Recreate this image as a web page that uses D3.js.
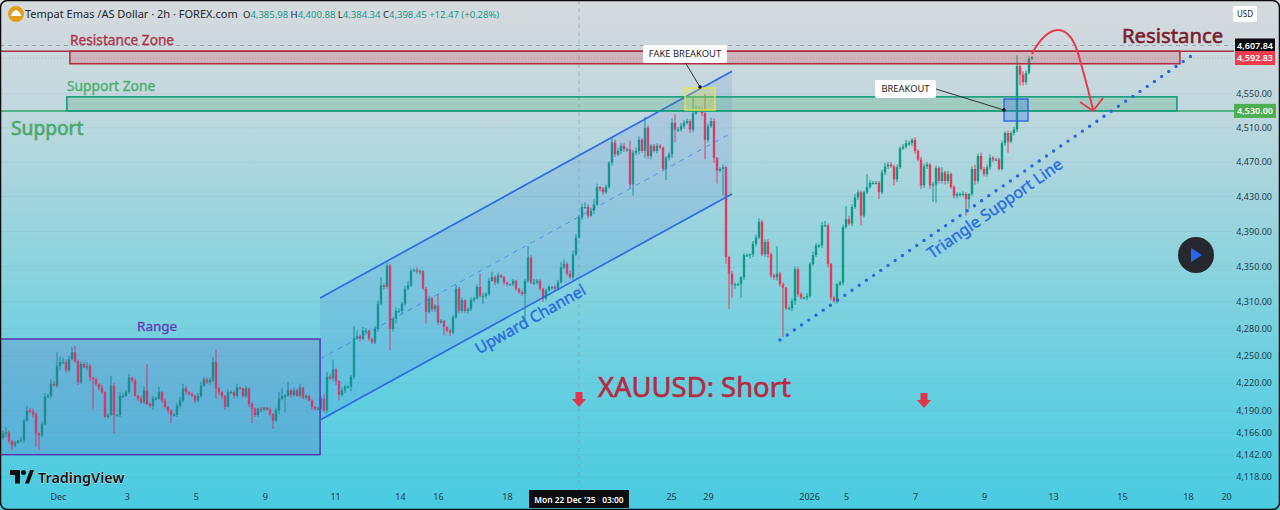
<!DOCTYPE html>
<html><head><meta charset="utf-8">
<script src="https://cdn.jsdelivr.net/npm/d3@7"></script>
<style>html,body{margin:0;padding:0;background:#4dcde2;overflow:hidden}svg{display:block}text{font-family:"Noto Sans",sans-serif}</style>
</head><body><div id="c"></div>
<script>
const closes=[
4165,4166,4157,4152,4155,4157,4158,4179,4190,4189,
4186,4165,4163,4175,4205,4206,4219,4217,4239,4243,
4243,4234,4246,4254,4244,4221,4241,4237,4239,4226,
4224,4219,4215,4210,4183,4185,4217,4185,4185,4206,
4206,4210,4226,4223,4206,4203,4199,4212,4197,4195,
4203,4203,4210,4201,4194,4190,4185,4185,4195,4201,
4214,4210,4208,4206,4201,4206,4217,4224,4221,4223,
4243,4214,4210,4206,4194,4210,4210,4206,4215,4214,
4206,4214,4197,4192,4185,4192,4191,4193,4191,4186,
4179,4190,4203,4206,4206,4212,4207,4212,4206,4215,
4204,4206,4201,4194,4192,4192,4203,4190,
4227,4225,4235,4222,4207,4212,4216,4216,4227,4270,
4272,4269,4278,4278,4269,4265,4280,4308,4329,4327,
4351,4280,4291,4300,4300,4308,4325,4329,4345,4346,
4344,4345,4325,4299,4314,4302,4306,4287,4289,4282,
4278,4276,4293,4325,4300,4312,4300,4302,4312,4314,
4327,4317,4317,4319,4334,4338,4332,4340,4338,4332,
4330,4330,4334,4325,4321,4319,4334,4360,4332,4332,
4334,4325,4314,4323,4327,4327,4325,4332,4349,4353,
4342,4338,4364,4383,4406,4418,4418,4408,4414,4421,
4441,4439,4435,4441,4469,4493,4479,4483,4489,4485,
4485,4444,4481,4483,4496,4483,4510,4477,4489,4483,
4489,4487,4462,4475,4479,4516,4508,4508,4512,4516,
4518,4508,4527,4531,4531,4527,4496,4512,4518,4475,
4460,4462,4464,4361,4342,4330,4330,4330,4338,4363,
4363,4364,4376,4383,4401,4364,4378,4364,4340,4338,
4342,4330,4326,4303,4303,4311,4347,4319,4315,4315,
4317,4353,4363,4374,4374,4397,4397,4353,4315,4311,
4330,4332,4395,4404,4399,4418,4429,4435,4408,4435,
4441,4446,4446,4446,4435,4458,4465,4467,4465,4450,
4464,4486,4488,4492,4492,4496,4483,4473,4443,4465,
4467,4443,4444,4463,4448,4458,4448,4456,4441,4431,
4433,4433,4433,4427,4433,4462,4448,4477,4462,4456,
4464,4475,4473,4473,4462,4492,4504,4494,4504,4508,
4583,4573,4564,4575,4592,4594];
const wickUp=[
3,6,2,1,2,1,3,2,5,3,
3,2,1,3,4,2,5,3,15,6,
5,3,4,6,7,2,3,2,4,2,
1,2,1,3,1,2,11,3,1,4,
3,2,4,1,2,1,3,4,29,2,
3,2,6,1,2,1,1,2,3,4,
5,3,1,2,1,3,4,3,2,3,
6,14,2,1,1,3,2,2,4,1,
1,3,1,2,1,1,2,1,1,2,
1,3,7,9,2,9,2,3,2,4,
1,2,1,1,1,2,3,5,
5,3,11,2,1,3,2,2,2,13,
6,2,4,3,1,1,3,4,9,2,
3,2,2,4,3,2,3,4,3,2,
3,2,1,2,3,2,2,13,2,1,
1,2,2,4,2,3,1,2,3,2,
3,15,3,2,3,6,2,3,2,2,
1,1,2,1,1,2,2,13,3,4,
2,2,1,2,2,1,2,3,6,5,
2,3,4,4,3,4,5,3,3,6,
4,1,2,3,2,5,3,4,3,3,
2,10,3,4,4,2,13,3,2,2,
3,2,1,2,3,5,10,3,4,3,
3,2,19,5,4,3,23,3,4,3,
1,2,3,2,1,3,2,2,1,2,
2,1,3,3,4,2,3,3,2,2,
31,2,2,1,2,3,3,2,2,1,
3,2,4,3,2,4,5,2,1,2,
1,2,3,15,4,3,4,3,2,2,
15,3,2,2,2,3,4,3,3,2,
3,2,3,4,3,2,3,2,3,3,
3,2,3,3,2,6,2,4,2,2,
2,2,3,2,1,3,5,3,4,2,
3,4,2,2,2,3,2,3,2,3,
13,2,4,3,3,1];
const wickDown=[
2,4,3,5,2,1,2,3,1,2,
4,14,16,2,1,2,3,1,2,5,
2,3,2,1,2,3,2,1,3,4,
32,2,3,2,1,2,1,20,1,2,
3,1,2,2,1,3,2,2,1,2,
4,2,1,3,2,3,9,1,2,3,
2,3,2,1,3,2,2,1,2,3,
2,11,3,4,3,1,2,3,2,1,
2,2,3,16,2,2,3,2,1,2,
9,2,4,2,18,1,3,2,1,2,
2,2,1,3,2,1,2,2,
3,2,3,4,6,2,3,2,5,3,
2,3,2,3,2,2,2,3,1,3,
2,24,3,5,2,3,2,2,2,1,
2,3,1,13,2,3,3,3,1,9,
2,4,2,2,3,2,2,3,2,2,
1,2,9,3,2,1,3,2,1,3,
2,1,2,2,2,2,30,2,2,3,
2,2,4,2,1,3,2,2,1,2,
2,2,3,2,1,3,2,3,1,4,
2,3,3,2,2,3,3,2,4,3,
3,4,13,3,4,2,8,3,4,2,
3,2,2,13,3,4,15,3,2,3,
2,4,3,2,2,3,23,3,2,6,
15,2,31,8,40,15,5,2,15,3,
2,4,3,3,2,2,3,4,3,3,
4,3,55,2,2,3,4,3,2,2,
3,2,2,2,3,3,2,4,3,2,
3,2,3,2,2,3,2,3,11,2,
2,2,2,2,8,2,3,3,2,7,
3,2,2,2,3,3,3,2,4,3,
3,4,19,21,3,3,4,3,2,3,
3,3,3,19,11,2,4,3,2,3,
3,3,3,2,2,2,3,13,2,3,
3,13,4,3,2,2];
const firstOpen=4160;
const priceTicks=[4550,4510,4470,4430,4390,4350,4310,4280,4250,4220,4190,4166,4142,4118];
const dateTickBars=[18.3,41.3,64.3,87.3,110.7,132.3,145,168,222.7,235,268.7,281,304,327,350,373,395,407.7];
const dateTickLabels=["Dec","3","5","9","11","14","16","18","25","29","2026","5","7","9","13","15","18","20"];
const headerName="Tempat Emas /AS Dollar · 2h · FOREX.com";
const headerOHLC=[["O","4,385.98"],["H","4,400.88"],["L","4,384.34"],["C","4,398.45"],["","+12.47 (+0.28%)"]];
const lastPrice=4592.83, highLine=4607.84, supportLevel=4530, resistanceLevel=4601, resistanceLow=4586, supportHigh=4546.6;
const channelBars=[105.7,243];
const channelLow=[4179.6,4433];
const channelHigh=[4314.6,4577];
const rangeBars=[-1,105.7], rangePrices=[4142,4268.7];
const trendBars=[259,398], trendPrices=[4267.6,4600];

const W=1280,H=510;
const x=d3.scaleLinear().domain([0,400]).range([3,1203]);
const y=d3.scaleLog().domain([4118,lastPrice]).range([477,58]);
const bars=closes.map((c,i)=>{const o=i?closes[i-1]:firstOpen;return{i,o,c,h:Math.max(o,c)+wickUp[i],l:Math.min(o,c)-wickDown[i]}});

const svg=d3.select("#c").append("svg").attr("width",W).attr("height",H).attr("viewBox",`0 0 ${W} ${H}`);
const defs=svg.append("defs");
const g=defs.append("linearGradient").attr("id","bg").attr("x1",0).attr("x2",0).attr("y1",0).attr("y2",1);
[[0,"#d6dadd"],[.2,"#c2d8de"],[.5,"#8fd3de"],[.75,"#66cfe0"],[1,"#49cbe1"]].forEach(s=>g.append("stop").attr("offset",s[0]).attr("stop-color",s[1]));
svg.append("rect").attr("width",W).attr("height",H).attr("fill","url(#bg)");

// grid
svg.append("g").selectAll("line").data(priceTicks).join("line")
 .attr("x1",0).attr("x2",1233).attr("y1",d=>y(d)).attr("y2",d=>y(d)).attr("stroke","#5a7f88").attr("stroke-opacity",.1);

// level dashes
svg.append("line").attr("x1",0).attr("x2",1233).attr("y1",y(highLine)).attr("y2",y(highLine)).attr("stroke","#9aa5aa").attr("stroke-dasharray","4 4");
svg.append("line").attr("x1",0).attr("x2",1233).attr("y1",y(lastPrice)).attr("y2",y(lastPrice)).attr("stroke","#aeb6ba").attr("stroke-dasharray","1 2");
// crosshair
svg.append("line").attr("x1",x(192)).attr("x2",x(192)).attr("y1",0).attr("y2",490).attr("stroke","#7f9aa2").attr("stroke-opacity",.6).attr("stroke-dasharray","4 4");

// candles
const up="#0f9a86", dn="#e9395a";
const cg=svg.append("g");
cg.selectAll("line").data(bars).join("line")
 .attr("x1",d=>x(d.i)).attr("x2",d=>x(d.i)).attr("y1",d=>y(d.h)).attr("y2",d=>y(d.l))
 .attr("stroke",d=>d.c>=d.o?up:dn).attr("stroke-width",1);
cg.selectAll("rect").data(bars).join("rect")
 .attr("x",d=>x(d.i)-1.2).attr("width",2.4)
 .attr("y",d=>y(Math.max(d.o,d.c))).attr("height",d=>Math.max(1.2,Math.abs(y(d.o)-y(d.c))))
 .attr("fill",d=>d.c>=d.o?up:dn);

// range box
svg.append("rect").attr("x",x(rangeBars[0])).attr("width",x(rangeBars[1])-x(rangeBars[0]))
 .attr("y",y(rangePrices[1])).attr("height",y(rangePrices[0])-y(rangePrices[1]))
 .attr("fill","#5e4ab8").attr("fill-opacity",.2).attr("stroke","#5836b4").attr("stroke-width",1.5);

// channel
const px=(b,p)=>[x(b),y(p)];
svg.append("path").attr("d",d3.line()([px(channelBars[0],channelLow[0]),px(channelBars[1],channelLow[1]),px(channelBars[1],channelHigh[1]),px(channelBars[0],channelHigh[0])])+"Z")
 .attr("fill","#3f6fe0").attr("fill-opacity",.14);
[[channelLow,"none",1.7,.95],[channelHigh,"none",1.7,.95],
 [channelLow.map((d,i)=>Math.sqrt(d*channelHigh[i])),"5 5",1,.55]].forEach(([s,dash,w,o])=>{
 svg.append("line").attr("x1",x(channelBars[0])).attr("x2",x(channelBars[1])).attr("y1",y(s[0])).attr("y2",y(s[1]))
  .attr("stroke","#2a66e6").attr("stroke-width",w).attr("stroke-dasharray",dash).attr("stroke-opacity",o);
});

// zones
const zoneBarsR=[22.3,392.3], zoneBarsS=[21.3,391.3];
svg.append("line").attr("x1",0).attr("x2",1234).attr("y1",y(resistanceLevel)).attr("y2",y(resistanceLevel)).attr("stroke","#a83346").attr("stroke-width",1.6);
svg.append("rect").attr("x",x(zoneBarsR[0])).attr("width",x(zoneBarsR[1])-x(zoneBarsR[0])).attr("y",y(resistanceLevel)).attr("height",y(resistanceLow)-y(resistanceLevel))
 .attr("fill","#d64a62").attr("fill-opacity",.26).attr("stroke","#b02f45").attr("stroke-width",1.6);
svg.append("line").attr("x1",0).attr("x2",1234).attr("y1",y(supportLevel)).attr("y2",y(supportLevel)).attr("stroke","#2fa36b").attr("stroke-width",1.5);
svg.append("rect").attr("x",x(zoneBarsS[0])).attr("width",x(zoneBarsS[1])-x(zoneBarsS[0])).attr("y",y(supportHigh)).attr("height",y(supportLevel)-y(supportHigh))
 .attr("fill","#3fa868").attr("fill-opacity",.24).attr("stroke","#159f7c").attr("stroke-width",1.6);

// highlight boxes
svg.append("rect").attr("x",685).attr("y",88).attr("width",30).attr("height",22).attr("fill","#f1ea3a").attr("fill-opacity",.28).attr("stroke","#e8e44e").attr("stroke-width",1.3);
svg.append("rect").attr("x",1004).attr("y",99).attr("width",24).attr("height",22).attr("fill","#2f6cf0").attr("fill-opacity",.3).attr("stroke","#2a5fe0").attr("stroke-width",1.3);

// trend dots
svg.append("line").attr("x1",x(trendBars[0])).attr("x2",x(trendBars[1])).attr("y1",y(trendPrices[0])).attr("y2",y(trendPrices[1]))
 .attr("stroke","#2a66e6").attr("stroke-width",3.4).attr("stroke-linecap","round").attr("stroke-dasharray","0 8.75");

// callouts
function callout(label,bx,by,bw,bh,p1,p2){
 svg.append("line").attr("x1",p1[0]).attr("y1",p1[1]).attr("x2",p2[0]).attr("y2",p2[1]).attr("stroke","#222").attr("stroke-width",.9);
 svg.append("circle").attr("cx",p2[0]).attr("cy",p2[1]).attr("r",1.8).attr("fill","#111");
 svg.append("rect").attr("x",bx).attr("y",by).attr("width",bw).attr("height",bh).attr("rx",2).attr("fill","#fff");
 svg.append("text").attr("x",bx+bw/2).attr("y",by+bh/2+3.3).attr("text-anchor","middle").attr("font-size",9.4).attr("fill","#222").text(label);
}
callout("FAKE BREAKOUT",643,45,84,18,[685,62],[700,87]);
callout("BREAKOUT",875,80,61,18,[936,89],[1004,110]);

// red forecast arrow
const arrowCol="#e8394f";
svg.append("path").attr("d","M1032,54C1040,38 1050,30 1058,30C1070,30 1076,44 1080,60C1085,78 1090,96 1093,110").attr("fill","none").attr("stroke",arrowCol).attr("stroke-width",2);
svg.append("path").attr("d","M1080,102L1093,111L1103,98").attr("fill","none").attr("stroke",arrowCol).attr("stroke-width",2);

// down arrows
[[579,392],[924,393]].forEach(([ax,ay])=>{
 svg.append("path").attr("d",d3.line()([[ax-3.5,ay],[ax+3.5,ay],[ax+3.5,ay+7],[ax+7,ay+7],[ax,ay+15],[ax-7,ay+7],[ax-3.5,ay+7]])+"Z").attr("fill","#e0344c");
});

// text labels
const T=(s,tx,ty,size,col,opt={})=>svg.append("text").attr("x",tx).attr("y",ty).attr("font-size",size).attr("fill",col)
 .attr("font-family",opt.font||'"DejaVu Sans",sans-serif').attr("font-weight",opt.w||400).attr("text-anchor",opt.a||"start")
 .attr("stroke",col).attr("stroke-width",opt.s===undefined?.35:opt.s)
 .attr("transform",opt.r?`rotate(${opt.r} ${tx} ${ty})`:null).text(s);
T("Resistance Zone",70,45,13.7,"#b0324c");
T("Support Zone",67,91,13.8,"#4dae6c");
T("Support",11,135,19.2,"#4aa96b",{s:.6});
T("Resistance",1122,43,20.3,"#7a1e30",{s:.6});
T("XAUUSD: Short",598,397,27.4,"#b82a44",{s:.6});
T("Range",157,331,13.4,"#5e42b8",{a:"middle"});
T("Upward Channel",533,324,15.9,"#2a6ae2",{a:"middle",r:-29.5});
T("Triangle Support Line",998,213,16,"#2a6ae2",{a:"middle",r:-35});

// price axis
const yAxis=d3.axisRight(y).tickValues(priceTicks).tickFormat(d3.format(",.2f")).tickSize(0);
const ya=svg.append("g").attr("transform","translate(1272,0)").call(yAxis);
ya.select(".domain").remove();
ya.selectAll("text").attr("x",0).attr("text-anchor","end").attr("font-size",9).attr("font-family",'"Noto Sans",sans-serif').attr("fill","#1d3d4a");

// date axis
const xAxis=d3.axisBottom(x).tickValues(dateTickBars).tickFormat((d,i)=>dateTickLabels[i]).tickSize(0);
const xa=svg.append("g").attr("transform","translate(0,494)").call(xAxis);
xa.select(".domain").remove();
xa.selectAll("text").attr("y",0).attr("dy","0.71em").attr("font-size",9).attr("font-family",'"Noto Sans",sans-serif').attr("fill","#1d3d4a");

// crosshair date label
svg.append("rect").attr("x",529).attr("y",490).attr("width",100).attr("height",18).attr("fill","#0c0d10");
svg.append("text").attr("x",579).attr("y",503).attr("text-anchor","middle").attr("font-size",8.4).attr("font-weight",600).attr("fill","#fff").style("white-space","pre").text("Mon 22 Dec '25   03:00");

// price badges
[[highLine,"#0b0c0f","#fff",1235,40],[lastPrice,"#ef3b50","#fff",1235,40],[supportLevel,"#4caf50","#fff",1234,42]].forEach(([p,bg,fg,bx,bw])=>{
 svg.append("rect").attr("x",bx).attr("y",y(p)-7).attr("width",bw).attr("height",14).attr("fill",bg);
 svg.append("text").attr("x",1273).attr("y",y(p)+3.2).attr("text-anchor","end").attr("font-size",9).attr("font-weight",600).attr("fill",fg).text(d3.format(",.2f")(p));
});
svg.append("rect").attr("x",1233).attr("y",6).attr("width",24).attr("height",16).attr("rx",2).attr("fill","#fff");
svg.append("text").attr("x",1245).attr("y",17).attr("text-anchor","middle").attr("font-size",8).attr("fill","#222").text("USD");

// header
svg.append("circle").attr("cx",16).attr("cy",14).attr("r",8).attr("fill","#e0a01a");
svg.append("path").attr("d","M10.5,16H21.5L19.5,12.5C17,9.5 15,9.5 12.5,12.5Z").attr("fill","#fff");
svg.append("text").attr("x",25).attr("y",18).attr("font-size",11).attr("fill","#23282b").text(headerName);
const ht=svg.append("text").attr("x",243).attr("y",17.5).attr("font-size",9.5);
headerOHLC.forEach(([k,v])=>{
 if(k) ht.append("tspan").attr("fill","#23282b").text(k);
 ht.append("tspan").attr("fill","#159a87").text(v+" ");
});

// TradingView logo
const lg=svg.append("g").attr("transform","translate(10,470)");
lg.append("path").attr("d","M0,0H10V13.5H5V5H0Z").attr("fill","#0e0e10");
lg.append("circle").attr("cx",13.5).attr("cy",2.5).attr("r",2.5).attr("fill","#0e0e10");
lg.append("path").attr("d","M15,13.5L20,0H24L19,13.5Z").attr("fill","#0e0e10");
svg.append("text").attr("x",38).attr("y",483).attr("font-size",14.4).attr("font-weight",600).attr("font-family","Inter,sans-serif").attr("fill","#101012").attr("stroke","#fff").attr("stroke-width",.5).attr("paint-order","stroke").text("TradingView");

// play button
svg.append("circle").attr("cx",1196).attr("cy",255).attr("r",18).attr("fill","#25282f");
svg.append("path").attr("d","M1191,248L1202,255L1191,262Z").attr("fill","#2a66f0");

// frame
svg.append("rect").attr("x",0.5).attr("y",0.5).attr("width",W-1).attr("height",H-1).attr("rx",7).attr("fill","none").attr("stroke","#0b0b0d").attr("stroke-width",1.5);
</script></body></html>
